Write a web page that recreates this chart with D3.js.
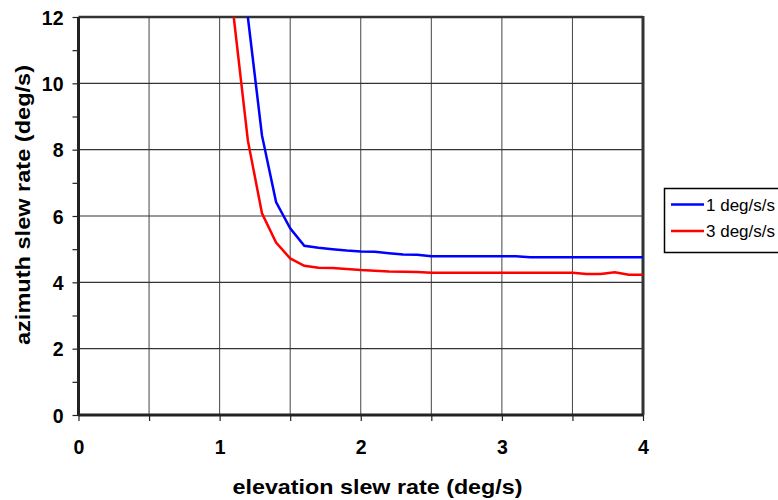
<!DOCTYPE html>
<html><head><meta charset="utf-8">
<script src="https://cdn.jsdelivr.net/npm/d3@7"></script>
<style>body{margin:0;background:#fff}svg{display:block}text{font-family:"Liberation Sans",Arial,sans-serif}</style>
</head><body>
<svg id="c" width="778" height="500"></svg>
<script>
const seriesNames = ["1 deg/s/s", "3 deg/s/s"];
const seriesColors = ["#0000ff", "#ff0000"];
const xBlue = [1.2,1.3,1.4,1.5,1.6,1.7,1.8,1.9,2.0,2.1,2.2,2.3,2.4,2.5,2.6,2.7,2.8,2.9,3.0,3.1,3.2,3.3,3.4,3.5,3.6,3.7,3.8,3.9,4.0];
const yBlue = [12,8.43,6.42,5.63,5.10,5.04,5.00,4.96,4.93,4.92,4.88,4.84,4.83,4.79,4.79,4.79,4.79,4.79,4.79,4.79,4.76,4.76,4.76,4.76,4.76,4.76,4.76,4.76,4.76];
const xRed = [1.1,1.2,1.3,1.4,1.5,1.6,1.7,1.8,1.9,2.0,2.1,2.2,2.3,2.4,2.5,2.6,2.7,2.8,2.9,3.0,3.1,3.2,3.3,3.4,3.5,3.6,3.7,3.8,3.9,4.0];
const yRed = [12,8.28,6.08,5.20,4.72,4.50,4.44,4.43,4.40,4.37,4.35,4.33,4.32,4.31,4.29,4.29,4.29,4.29,4.29,4.29,4.29,4.29,4.29,4.29,4.29,4.25,4.25,4.30,4.23,4.23];
const xTicks = [0,1,2,3,4];
const xMinor = [0,0.5,1,1.5,2,2.5,3,3.5,4];
const yTicks = [0,2,4,6,8,10,12];
const yMinor = [0,1,2,3,4,5,6,7,8,9,10,11,12];
const xTitle = "elevation slew rate (deg/s)";
const yTitle = "azimuth slew rate (deg/s)";

const FONT = "'Liberation Sans', Arial, Helvetica, sans-serif";
const svg = d3.select("#c");
const L=78.5, R=643, T=17, B=415;
const x = d3.scaleLinear().domain([0,4]).range([L,R]);
const y = d3.scaleLinear().domain([0,12]).range([B,T]);

// grid
svg.append("g").selectAll("line").data(xMinor.slice(1,-1)).join("line")
  .attr("x1",d=>x(d)).attr("x2",d=>x(d)).attr("y1",T).attr("y2",B)
  .attr("stroke","#444").attr("stroke-width",1);
svg.append("g").selectAll("line").data(yTicks.slice(1)).join("line")
  .attr("x1",L).attr("x2",R).attr("y1",d=>y(d)).attr("y2",d=>y(d))
  .attr("stroke","#333").attr("stroke-width",d=>d===12?2.5:1.2);
// right border
svg.append("line").attr("x1",R).attr("x2",R).attr("y1",T-1).attr("y2",B)
  .attr("stroke","#333").attr("stroke-width",3);

// axes
const gx = svg.append("g").attr("transform",`translate(0,${B})`)
  .call(d3.axisBottom(x).tickValues(xMinor).tickSize(6).tickFormat(d=>xTicks.includes(d)?d3.format("d")(d):""));
gx.attr("font-family",null).attr("font-size",null);
gx.select(".domain").attr("stroke","#222").attr("stroke-width",3).attr("d",`M${L},0H${R}`);
gx.selectAll(".tick line").attr("stroke","#222").attr("stroke-width",1.2);
gx.selectAll(".tick text").attr("dy",0).attr("y",39).attr("fill","#000")
  .style("font-family",FONT).style("font-size","19.5px").style("font-weight","bold");

const gy = svg.append("g").attr("transform",`translate(${L},0)`)
  .call(d3.axisLeft(y).tickValues(yMinor).tickSize(6).tickFormat(d=>yTicks.includes(d)?d3.format("d")(d):""));
gy.attr("font-family",null).attr("font-size",null);
gy.select(".domain").attr("stroke","#222").attr("stroke-width",3).attr("d",`M0,${T}V${B+1}`);
gy.selectAll(".tick line").attr("stroke","#222").attr("stroke-width",1.2);
gy.selectAll(".tick text").attr("x",-15).attr("dy","0.36em").attr("fill","#000")
  .style("font-family",FONT).style("font-size","19.5px").style("font-weight","bold");

// lines
const line = d3.line().x(d=>x(d[0])).y(d=>y(d[1]));
const data = [d3.zip(xBlue,yBlue), d3.zip(xRed,yRed)];
svg.append("g").selectAll("path").data(data).join("path")
  .attr("d",line).attr("fill","none")
  .attr("stroke",(d,i)=>seriesColors[i]).attr("stroke-width",2.5);

// titles
svg.append("text").attr("x",377.5).attr("y",494).attr("text-anchor","middle")
  .attr("textLength",290).attr("lengthAdjust","spacingAndGlyphs")
  .style("font-family",FONT).style("font-size","21px").style("font-weight","bold").text(xTitle);
svg.append("text").attr("transform",`translate(30,205) rotate(-90)`).attr("text-anchor","middle")
  .attr("textLength",280).attr("lengthAdjust","spacingAndGlyphs")
  .style("font-family",FONT).style("font-size","21px").style("font-weight","bold").text(yTitle);

// legend
const lg = svg.append("g");
lg.append("rect").attr("x",664.5).attr("y",188.5).attr("width",130).attr("height",64)
  .attr("fill","#fff").attr("stroke","#000").attr("stroke-width",1.5);
seriesNames.forEach((n,i)=>{
  const yy = 204.5 + i*26.5;
  lg.append("line").attr("x1",671).attr("x2",704).attr("y1",yy).attr("y2",yy)
    .attr("stroke",seriesColors[i]).attr("stroke-width",2.5);
  lg.append("text").attr("x",706).attr("y",yy).attr("dy","0.36em")
    .style("font-family",FONT).style("font-size","17px").text(n);
});
</script>
</body></html>
